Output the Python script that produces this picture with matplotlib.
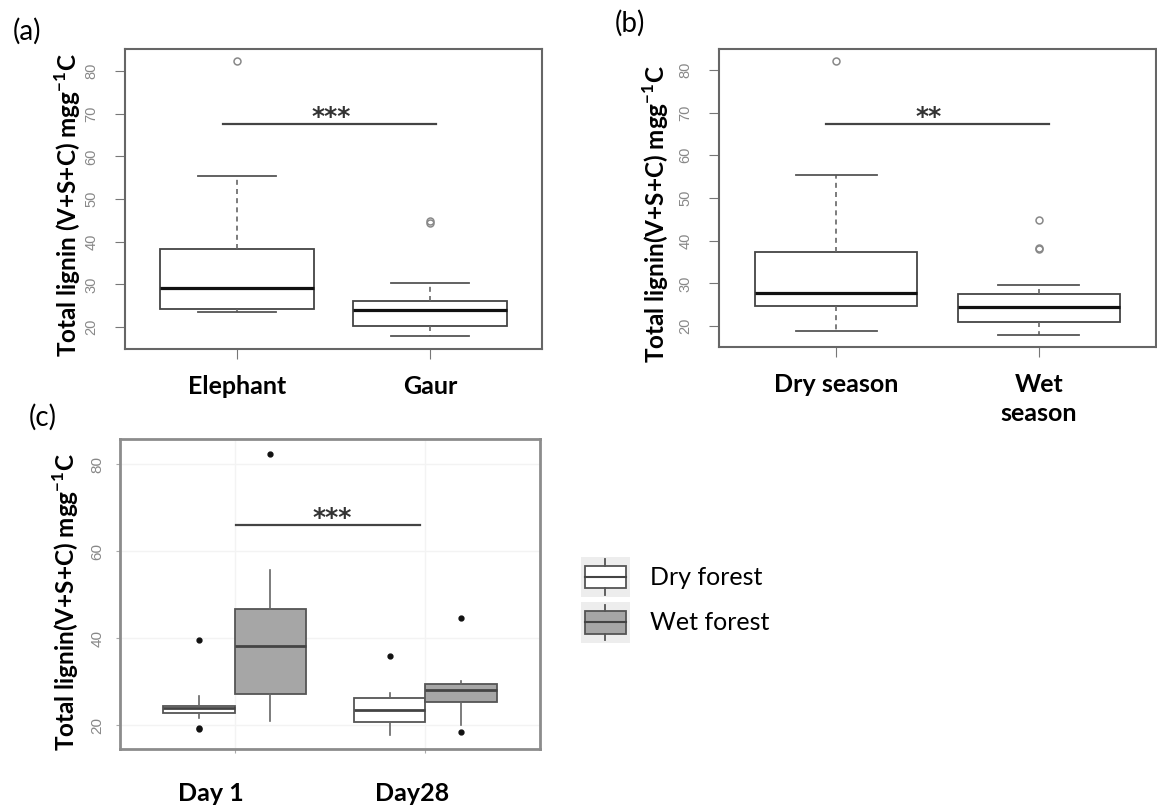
import numpy as np
import matplotlib
matplotlib.use("Agg")
import matplotlib.pyplot as plt
import matplotlib.transforms as mtransforms
from matplotlib.patches import Rectangle, Patch
from matplotlib.lines import Line2D
from matplotlib.legend_handler import HandlerBase

plt.rcParams['font.family'] = ['Lato', 'DejaVu Sans']
plt.rcParams['mathtext.fontset'] = 'custom'
plt.rcParams['mathtext.rm'] = 'Lato'
plt.rcParams['mathtext.bf'] = 'Lato:bold'

# (a) animal
a_groups = ['Elephant', 'Gaur']
a_med = [29.1, 23.9]
a_q1 = [24.3, 20.2]
a_q3 = [38.3, 26.0]
a_lo = [23.5, 17.8]
a_hi = [55.5, 30.3]
a_fliers = [[82.3], [44.5, 44.8]]

# (b) season
b_groups = ['Dry season', 'Wet\nseason']
b_med = [27.8, 24.4]
b_q1 = [24.7, 20.9]
b_q3 = [37.4, 27.4]
b_lo = [18.8, 17.8]
b_hi = [55.4, 29.6]
b_fliers = [[82.2], [44.8, 38.0, 38.2]]

# (c) day x forest
c_days = ['Day 1', 'Day28']
c_forest = ['Dry forest', 'Wet forest']
c_dry_med = [23.9, 23.5]
c_dry_q1 = [22.7, 20.6]
c_dry_q3 = [24.5, 26.2]
c_dry_lo = [21.6, 17.8]
c_dry_hi = [26.8, 27.3]
c_dry_fliers = [[39.5, 19.0, 19.4], [35.9]]
c_wet_med = [38.3, 28.1]
c_wet_q1 = [27.2, 25.4]
c_wet_q3 = [46.6, 29.5]
c_wet_lo = [21.0, 20.1]
c_wet_hi = [55.6, 30.1]
c_wet_fliers = [[82.4], [44.6, 18.5]]

# significance bars: x0, x1, y, label, label x
sig_a = (0.93, 2.03, 67.6, '***', 1.49)
sig_b = (0.95, 2.05, 67.3, '**', 1.455)
sig_c = (1.01, 1.97, 66.0, '***', 1.51)

W, H = 1157, 807
fig = plt.figure(figsize=(W / 100, H / 100), dpi=100)


def box(l, t, r, b):
    return [l / W, 1 - b / H, (r - l) / W, (b - t) / H]


def stats(med, q1, q3, lo, hi, fl):
    return [dict(med=m, q1=a, q3=b, whislo=x, whishi=y, fliers=f)
            for m, a, b, x, y, f in zip(med, q1, q3, lo, hi, fl)]


def stars(ax, sig, drop):
    x0, x1, y, txt, xs = sig
    ax.plot([x0, x1], [y, y], color='#444444', lw=1.6)
    ax.text(xs, y - drop, txt, ha='center', va='baseline', fontsize=18,
            fontweight='bold', color='#333333', family='DejaVu Sans')


ylab_a = r'Total lignin (V+S+C) mgg$^{\mathbf{-1}}$C'
ylab_bc = r'Total lignin(V+S+C) mgg$^{\mathbf{-1}}$C'


def r_panel(ax, st, groups, ylim):
    ax.bxp(st, positions=[1, 2], widths=0.8, capwidths=0.4, patch_artist=True,
           boxprops=dict(facecolor='white', edgecolor='#444444', linewidth=1.3),
           medianprops=dict(color='#111111', linewidth=2.3),
           whiskerprops=dict(color='#666666', linewidth=1.2, linestyle=(0, (3, 2.5))),
           capprops=dict(color='#555555', linewidth=1.3),
           flierprops=dict(marker='o', markerfacecolor='none', markeredgecolor='#888888',
                           markersize=5, markeredgewidth=1.1))
    ax.set_xlim(0.42, 2.58)
    ax.set_ylim(*ylim)
    ax.set_yticks(np.arange(20, 81, 10))
    ax.set_xticks([1, 2])
    ax.set_xticklabels(groups, fontsize=18, fontweight='bold', linespacing=1.3)
    ax.tick_params(axis='x', length=7, color='#777777', pad=12)
    ax.tick_params(axis='y', length=7, color='#777777', labelcolor='#888888',
                   labelsize=10.5, pad=12, labelfontfamily='Liberation Sans')
    for lab in ax.get_yticklabels():
        lab.set_rotation(90)
        lab.set_va('center')
    for s in ax.spines.values():
        s.set_color('#666666')
        s.set_linewidth(1.5)


# (a)
ax_a = fig.add_axes(box(125, 49, 542, 349))
r_panel(ax_a, stats(a_med, a_q1, a_q3, a_lo, a_hi, a_fliers), a_groups, (14.85, 85.2))
stars(ax_a, sig_a, 0.0)
fig.text(68 / W, 1 - 205 / H, ylab_a, rotation=90, ha='center', va='center',
         fontsize=17.5, fontweight='bold')
fig.text(27 / W, 1 - 31 / H, '(a)', ha='center', va='center', fontsize=20)

# (b)
ax_b = fig.add_axes(box(719, 49, 1156, 347))
r_panel(ax_b, stats(b_med, b_q1, b_q3, b_lo, b_hi, b_fliers), b_groups, (15.1, 84.9))
stars(ax_b, sig_b, 0.0)
fig.text(656 / W, 1 - 214 / H, ylab_bc, rotation=90, ha='center', va='center',
         fontsize=17.5, fontweight='bold')
fig.text(630 / W, 1 - 23 / H, '(b)', ha='center', va='center', fontsize=20)

# (c)
ax_c = fig.add_axes(box(120, 439, 540, 749))
wet_fill = '#a6a6a6'
dodge = 0.1875
pos = np.arange(1, len(c_days) + 1)
common = dict(widths=0.375, showcaps=False, patch_artist=True,
              medianprops=dict(color='#444444', linewidth=2.0),
              whiskerprops=dict(color='#666666', linewidth=1.2),
              flierprops=dict(marker='o', markerfacecolor='#111111', markeredgecolor='#111111',
                              markersize=3.5))
ax_c.bxp(stats(c_dry_med, c_dry_q1, c_dry_q3, c_dry_lo, c_dry_hi, c_dry_fliers),
         positions=pos - dodge,
         boxprops=dict(facecolor='white', edgecolor='#555555', linewidth=1.3), **common)
ax_c.bxp(stats(c_wet_med, c_wet_q1, c_wet_q3, c_wet_lo, c_wet_hi, c_wet_fliers),
         positions=pos + dodge,
         boxprops=dict(facecolor=wet_fill, edgecolor='#555555', linewidth=1.3), **common)
ax_c.set_xlim(0.4, 2.6)
ax_c.set_ylim(14.5, 85.8)
ax_c.set_yticks([20, 40, 60, 80])
ax_c.set_xticks(pos)
ax_c.set_xticklabels(c_days, fontsize=18, fontweight='bold')
ax_c.grid(True, color='#f3f3f3', lw=1)
ax_c.set_axisbelow(True)
ax_c.tick_params(axis='x', length=3, color='#aaaaaa', pad=21)
ax_c.tick_params(axis='y', length=3, color='#aaaaaa', labelcolor='#888888',
                 labelsize=11, pad=8, labelfontfamily='Liberation Sans')
for lab in ax_c.get_yticklabels():
    lab.set_rotation(90)
    lab.set_va('center')
for lab, dx in zip(ax_c.get_xticklabels(), [-24, -13]):
    lab.set_transform(lab.get_transform() + mtransforms.ScaledTranslation(dx / 100, 0, fig.dpi_scale_trans))
for s in ax_c.spines.values():
    s.set_color('#8c8c8c')
    s.set_linewidth(2)
stars(ax_c, sig_c, 0.0)
fig.text(66 / W, 1 - 602 / H, ylab_bc, rotation=90, ha='center', va='center',
         fontsize=17.5, fontweight='bold')
fig.text(43 / W, 1 - 417 / H, '(c)', ha='center', va='center', fontsize=20)


class BoxKey(HandlerBase):
    def create_artists(self, legend, orig, xd, yd, w, h, fs, trans):
        bg = Rectangle((-xd, -yd), w, h, facecolor='#ededed', edgecolor='none', transform=trans)
        bw, bh = w * 0.84, h * 0.56
        x0 = -xd + (w - bw) / 2
        y0 = -yd + (h - bh) / 2
        cx = -xd + w / 2
        rect = Rectangle((x0, y0), bw, bh, facecolor=orig.get_facecolor(),
                         edgecolor='#555555', lw=1.3, transform=trans)
        med = Line2D([x0, x0 + bw], [y0 + bh / 2] * 2, color='#444444', lw=1.5, transform=trans)
        w1 = Line2D([cx, cx], [-yd + h * 0.06, y0], color='#555555', lw=1.3, transform=trans)
        w2 = Line2D([cx, cx], [y0 + bh, -yd + h * 0.94], color='#555555', lw=1.3, transform=trans)
        return [bg, rect, med, w1, w2]


fig.legend(handles=[Patch(facecolor='white'), Patch(facecolor=wet_fill)], labels=c_forest,
           handler_map={Patch: BoxKey()}, loc='upper left',
           bbox_to_anchor=(581 / W, 1 - 557 / H), frameon=False, borderpad=0,
           borderaxespad=0, handlelength=1.95, handleheight=2.1, labelspacing=0.2,
           handletextpad=0.8, fontsize=18)

fig.savefig('out.png', dpi=100)
